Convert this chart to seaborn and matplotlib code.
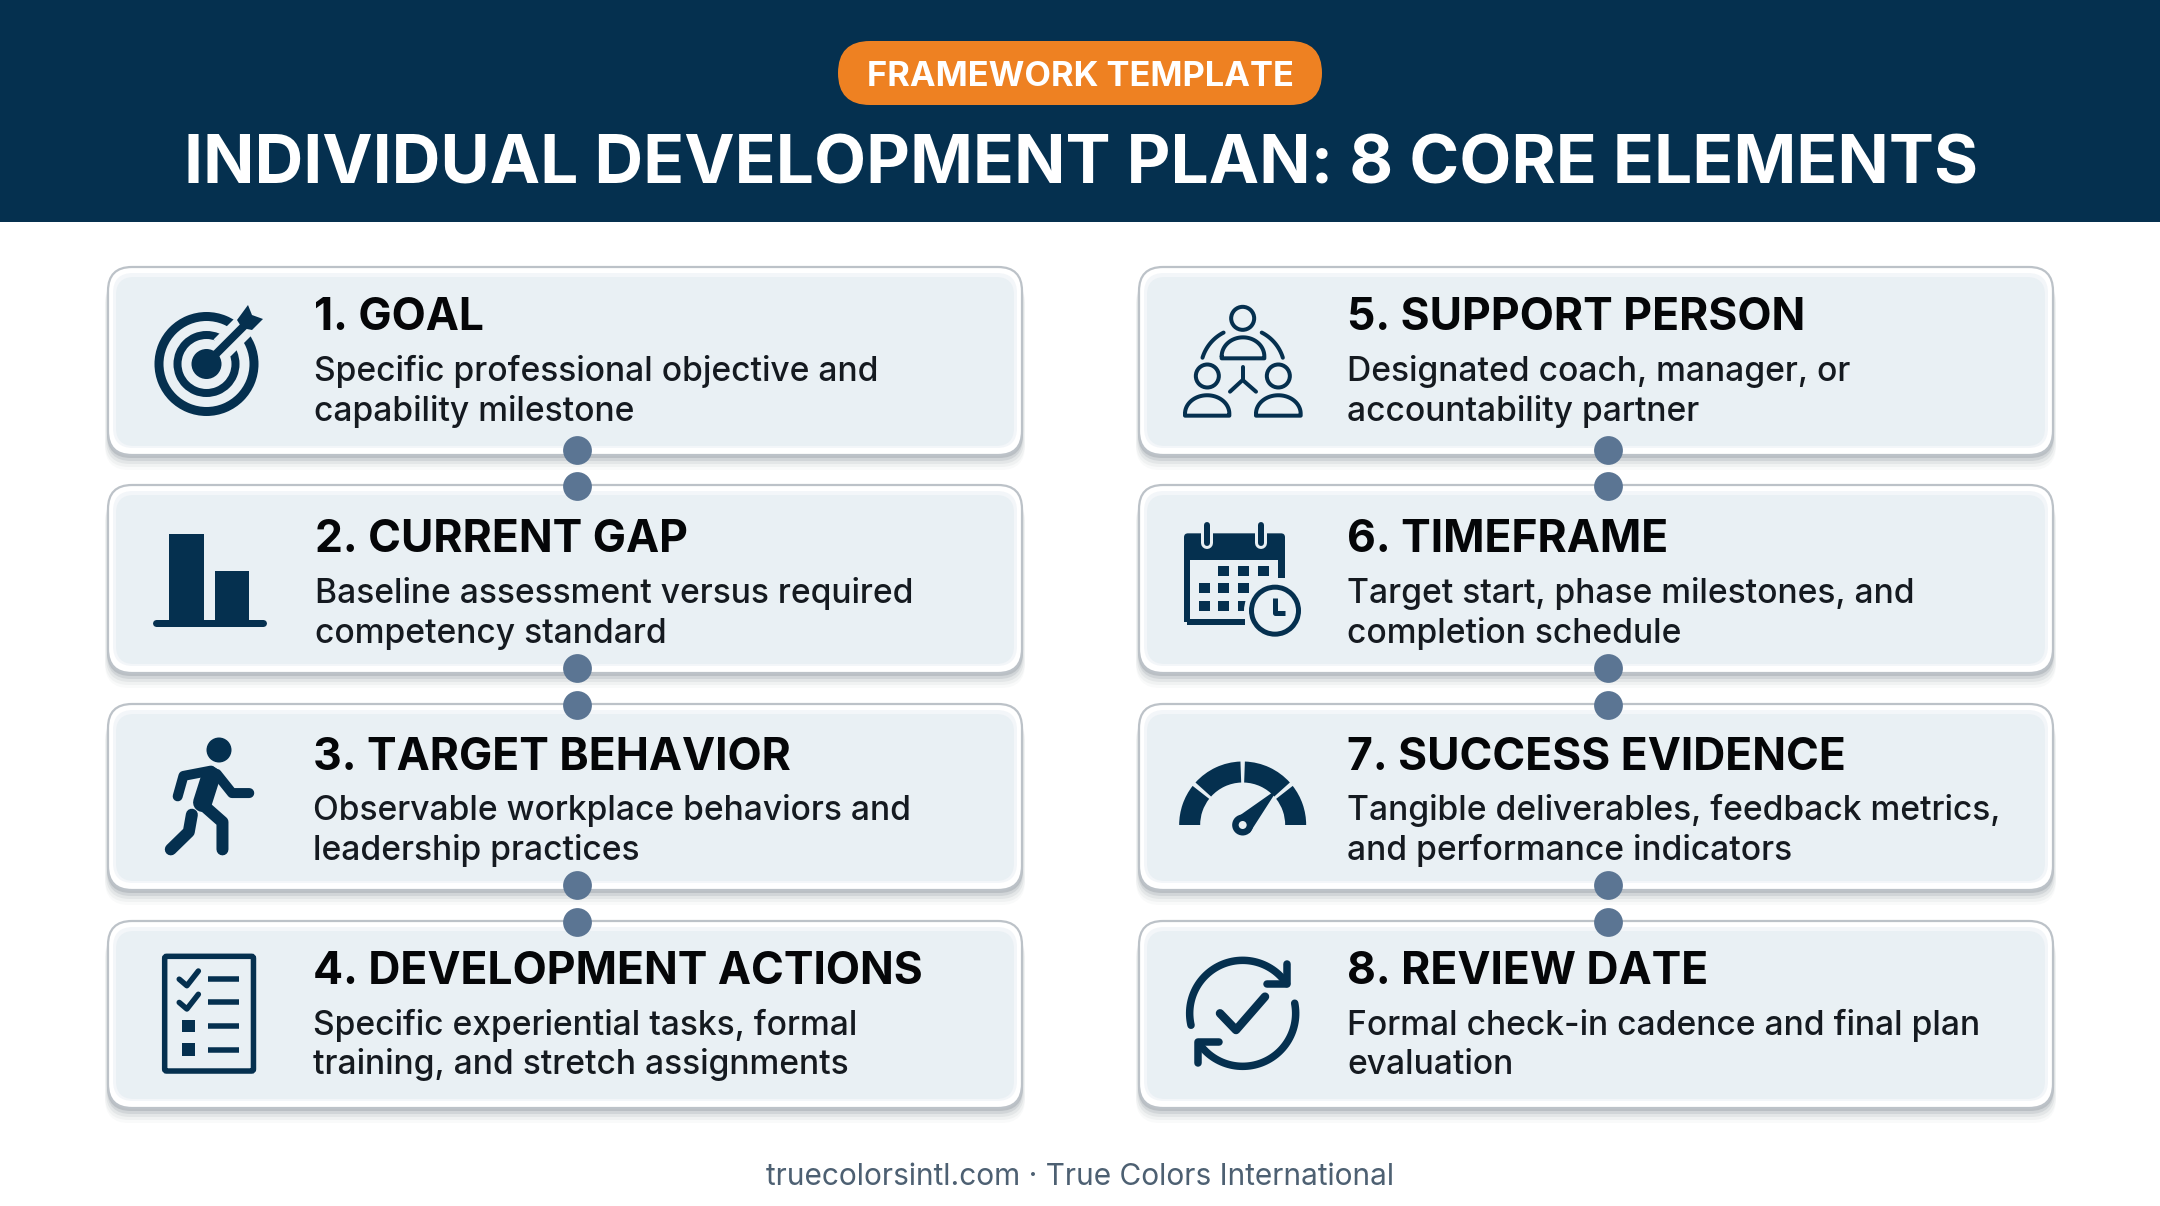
import numpy as np
import pandas as pd
import seaborn as sns
import matplotlib
matplotlib.use('Agg')
import matplotlib.pyplot as plt
from matplotlib.patches import FancyBboxPatch, Circle, Rectangle, Wedge, Polygon

# text content of the chart
badge_text = 'FRAMEWORK TEMPLATE'
title_text = 'INDIVIDUAL DEVELOPMENT PLAN: 8 CORE ELEMENTS'
footer_text = 'truecolorsintl.com · True Colors International'
left_titles = ['1. GOAL', '2. CURRENT GAP', '3. TARGET BEHAVIOR', '4. DEVELOPMENT ACTIONS']
right_titles = ['5. SUPPORT PERSON', '6. TIMEFRAME', '7. SUCCESS EVIDENCE', '8. REVIEW DATE']
left_lines = [['Specific professional objective and', 'capability milestone'],
              ['Baseline assessment versus required', 'competency standard'],
              ['Observable workplace behaviors and', 'leadership practices'],
              ['Specific experiential tasks, formal', 'training, and stretch assignments']]
right_lines = [['Designated coach, manager, or', 'accountability partner'],
               ['Target start, phase milestones, and', 'completion schedule'],
               ['Tangible deliverables, feedback metrics,', 'and performance indicators'],
               ['Formal check-in cadence and final plan', 'evaluation']]

# colours
NAVY = '#05304f'
ORANGE = '#ee8122'
CARD = '#e9f0f4'
DOT = '#5b7593'
PX = 72 / 100  # one pixel in points

sns.set_theme(style='white')
plt.rcParams['font.family'] = ['Inter', 'DejaVu Sans']

fig = plt.figure(figsize=(21.6, 12.06), dpi=100)
ax = fig.add_axes([0, 0, 1, 1])
ax.set_xlim(0, 2160)
ax.set_ylim(1206, 0)
ax.axis('off')

# header band and badge
ax.add_patch(Rectangle((0, 0), 2160, 222, fc=NAVY, ec='none', zorder=1))
ax.add_patch(FancyBboxPatch((838, 41), 484, 64, boxstyle='round,pad=0,rounding_size=32',
                            fc=ORANGE, ec='none', zorder=2))
ax.text(1080, 73, badge_text, color='white', fontsize=24.8, fontweight='bold',
        ha='center', va='center_baseline', zorder=3)
ax.text(1081, 159, title_text, color='white', fontsize=48.6, fontweight='bold',
        ha='center', va='center_baseline', zorder=3)
ax.text(1080, 1174, footer_text, color='#4d6072', fontsize=21.5,
        ha='center', va='center_baseline', zorder=3)


def draw_card(x0, top, bottom):
    w = 914
    h = bottom - top
    # soft shadow under the card
    for off, grow, alpha in [(15, 3, 0.03), (12, 3, 0.05), (9, 2, 0.08), (6, 1, 0.12), (3, 1, 0.18)]:
        ax.add_patch(FancyBboxPatch((x0 - grow, top + off), w + 2 * grow, h,
                                    boxstyle='round,pad=0,rounding_size=24',
                                    fc='#54606c', ec='none', alpha=alpha, zorder=2))
    ax.add_patch(FancyBboxPatch((x0, top), w, h, boxstyle='round,pad=0,rounding_size=24',
                                fc='white', ec='#bcc2c8', lw=1.6, zorder=3))
    # blurred edge between the white rim and the fill
    ax.add_patch(FancyBboxPatch((x0 + 5, top + 6), w - 10, h - 13,
                                boxstyle='round,pad=0,rounding_size=20',
                                fc='#f3f6f9', ec='none', zorder=4))
    ax.add_patch(FancyBboxPatch((x0 + 8, top + 10), w - 16, h - 19,
                                boxstyle='round,pad=0,rounding_size=18',
                                fc=CARD, ec='none', zorder=4))


def line(xs, ys, width=5, color=NAVY, cap='round', z=6):
    ax.plot(xs, ys, color=color, lw=width * PX, solid_capstyle=cap,
            solid_joinstyle='round', zorder=z)


def arc(cx, cy, r, a0, a1, width=4):
    t = np.radians(np.linspace(a0, a1, 60))
    line(cx + r * np.cos(t), cy + r * np.sin(t), width)


def disc(cx, cy, r, color=NAVY, z=6):
    ax.add_patch(Circle((cx, cy), r, fc=color, ec='none', zorder=z))


def ring(cx, cy, r_out, r_in, z=6):
    ax.add_patch(Wedge((cx, cy), r_out, 0, 360, width=r_out - r_in, fc=NAVY, ec='none', zorder=z))


def box(x0, y0, x1, y1, color=NAVY, z=6):
    ax.add_patch(Rectangle((x0, y0), x1 - x0, y1 - y0, fc=color, ec='none', zorder=z))


def icon_target():
    ring(206.5, 364, 52, 43)
    ring(206.5, 364, 33, 25)
    line([222, 262], [348, 308], 24, CARD, cap='butt', z=7)
    disc(206.5, 364, 15, z=8)
    line([208, 245], [362, 325], 8, cap='butt', z=8)
    ax.add_patch(Polygon([(248, 305), (252, 315), (263, 319), (252, 330), (242, 328), (237, 320)],
                         fc=NAVY, ec='none', zorder=8))


def icon_bars():
    box(169, 534, 204, 622)
    box(215, 571, 249, 622)
    line([156, 263], [622.5, 622.5], 7)


def icon_runner():
    fx = lambda v: [100 + c / 2.613 for c in v]
    fy = lambda v: [480 + c / 2.45 for c in v]
    disc(219, 750, 12.5)
    line(fx([203, 218, 290]), fy([775, 725, 712]), 10)
    line(fx([305, 345, 390]), fy([720, 767, 767]), 10)
    line(fx([290, 268]), fy([725, 790]), 19)
    line(fx([268, 320, 320]), fy([795, 838, 905]), 12)
    line(fx([240, 232, 185]), fy([820, 862, 905]), 12)


def icon_checklist():
    fx = lambda c: 100 + c / 2.613
    fy = lambda c: 480 + c / 2.45
    ax.add_patch(FancyBboxPatch((fx(169), fy(1167)), fx(401) - fx(169), fy(1448) - fy(1167),
                                boxstyle='round,pad=0,rounding_size=2', fc='none', ec=NAVY,
                                lw=5.5 * PX, zorder=6))
    for cy in [1223, 1280]:
        line([fx(207), fx(227), fx(257)], [fy(cy), fy(cy + 16), fy(cy - 20)], 5.5)
    for cy in [1338, 1396]:
        box(fx(215), fy(cy - 16), fx(247), fy(cy + 15))
    for cy in [1223, 1280, 1338, 1396]:
        line([fx(281), fx(362)], [fy(cy), fy(cy)], 5.5, cap='butt')


def icon_support():
    fx = lambda c: 1130 + c / 3
    fy = lambda c: 270 + c / 3
    disc_pts = [(338, 145), (232, 318), (445, 318)]
    for cx, cy in disc_pts:
        ax.add_patch(Circle((fx(cx), fy(cy)), 11.5, fc='none', ec=NAVY, lw=4 * PX, zorder=6))
    for left, right, base, top_y in [(275, 403, 265, 198), (165, 298, 437, 372), (378, 512, 437, 372)]:
        cx = (left + right) / 2
        rx = (right - left) / 2 / 3
        ry = (base - top_y) / 3
        t = np.radians(np.linspace(180, 360, 40))
        xs = np.r_[fx(cx) + rx * np.cos(t), fx(left)]
        ys = np.r_[fy(base - 6) + ry * np.sin(t) * 0.85, fy(base - 6)]
        xs = np.r_[xs[:-1], fx(right), fx(right), fx(left), fx(left), xs[0]]
        ys = np.r_[ys[:-1], fy(base), fy(base), fy(base), fy(base - 6), ys[0]]
        line(xs, ys, 4)
    arc(fx(338), fy(300), 42, 197, 243, 4)
    arc(fx(338), fy(300), 42, 297, 343, 4)
    line([fx(338), fx(338)], [fy(292), fy(330)], 4)
    line([fx(300), fx(338), fx(378)], [fy(365), fy(330), fy(365)], 4)


def icon_calendar():
    fx = lambda c: 1130 + c / 3
    fy = lambda c: 270 + c / 3
    ax.add_patch(FancyBboxPatch((fx(162), fy(790)), fx(465) - fx(162), fy(870) - fy(790),
                                boxstyle='round,pad=0,rounding_size=4', fc=NAVY, ec='none', zorder=6))
    box(fx(162), fy(850), fx(180), fy(1055))
    line([fx(170), fx(345)], [fy(1055), fy(1055)], 6, cap='butt')
    box(fx(445), fy(850), fx(465), fy(925))
    for cx in [232, 394]:
        line([fx(cx), fx(cx)], [fy(768), fy(818)], 12, CARD, z=7)
        line([fx(cx), fx(cx)], [fy(765), fy(818)], 6, z=8)
    rows = [(887, [265, 325, 385]), (940, [207, 265, 325]), (992, [207, 265, 325])]
    for cy, xs in rows:
        for cx in xs:
            box(fx(cx), fy(cy), fx(cx + 33), fy(cy + 30))
    disc(fx(435), fy(1022), 31, CARD, z=7)
    ring(fx(435), fy(1022), 26, 21, z=8)
    line([fx(435), fx(435), fx(466)], [fy(985), fy(1030), fy(1030)], 5, cap='butt', z=8)


def icon_gauge():
    cx, cy = 1130 + 338 / 3, 720 + 315 / 3
    for a0, a1 in [(180, 218), (222, 268), (272, 318), (322, 360)]:
        ax.add_patch(Wedge((cx, cy), 63.5, a0, a1, width=21, fc=NAVY, ec='none', zorder=6))
    # needle
    tip = (1130 + 445 / 3, 720 + 205 / 3)
    ax.add_patch(Polygon([tip, (cx - 8, cy - 6), (cx + 7, cy + 8)], fc=NAVY, ec='none', zorder=7))
    disc(cx, cy, 10.5, z=7)
    disc(cx, cy, 4, CARD, z=8)


def icon_cycle():
    fx = lambda c: 1130 + c / 3
    fy = lambda c: 720 + c / 3
    cx, cy = fx(338), fy(880)
    arc(cx, cy, 53, 167, 326, 7.5)
    arc(cx, cy, 53, -11, 142, 7.5)
    line([fx(472), fx(472), fx(412)], [fy(732), fy(792), fy(792)], 7.5)
    line([fx(205), fx(205), fx(268)], [fy(1030), fy(967), fy(967)], 7.5)
    line([fx(270), fx(318), fx(405)], [fy(880), fy(930), fy(830)], 8.5)


# card geometry in pixels
col_x = [108, 1139]
card_tops = [267, 485, 704, 921]
card_bottoms = [455, 673, 890, 1108]
title_x = [[314, 315, 313, 313], [1347, 1347, 1347, 1347]]
title_y = [314, 536, 754, 968]
line1_y = [368, 590, 807, 1022]
line2_y = [408, 630, 847, 1061]

for col, (titles, lines) in enumerate([(left_titles, left_lines), (right_titles, right_lines)]):
    for i in range(4):
        draw_card(col_x[col], card_tops[i], card_bottoms[i])
        ax.text(title_x[col][i], title_y[i], titles[i], color='#050608', fontsize=32,
                fontweight='bold', ha='left', va='center_baseline', zorder=9)
        ax.text(title_x[col][i], line1_y[i], lines[i][0], color='#151a20', fontsize=24.2,
                fontweight='medium', ha='left', va='center_baseline', zorder=9)
        ax.text(title_x[col][i], line2_y[i], lines[i][1], color='#151a20', fontsize=24.2,
                fontweight='medium', ha='left', va='center_baseline', zorder=9)

icon_target()
icon_bars()
icon_runner()
icon_checklist()
icon_support()
icon_calendar()
icon_gauge()
icon_cycle()

# connector dots between the cards
dot_y = []
for i in range(3):
    dot_y += [card_bottoms[i] - 5, card_tops[i + 1] + 1]
dots = pd.DataFrame({'x': [577] * 6 + [1608] * 6, 'y': dot_y * 2})
sns.scatterplot(data=dots, x='x', y='y', color=DOT, s=430, linewidth=0, ax=ax, zorder=10, legend=False)
ax.set_xlim(0, 2160)
ax.set_ylim(1206, 0)
ax.axis('off')

fig.savefig('out.png', dpi=100, facecolor='white')
